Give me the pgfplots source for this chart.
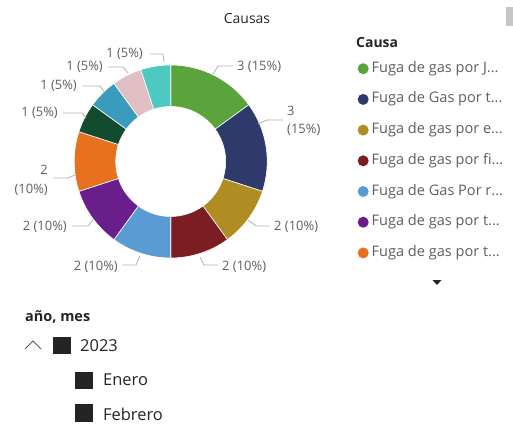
\documentclass[border=0pt]{standalone}
\usepackage{fontspec}
\setmainfont{Open Sans}
\usepackage{pgfplots}
\usepackage{pgfplotstable}
\pgfplotsset{compat=1.18}
\definecolor{cGreen}{HTML}{5BA33B}
\definecolor{cNavy}{HTML}{2D3A6B}
\definecolor{cOlive}{HTML}{B08D22}
\definecolor{cRed}{HTML}{7C1D24}
\definecolor{cBlue}{HTML}{5B9BD3}
\definecolor{cPurple}{HTML}{6A1E8B}
\definecolor{cOrange}{HTML}{E6711E}
\definecolor{cDkGreen}{HTML}{134B2E}
\definecolor{cTeal}{HTML}{3A9CBD}
\definecolor{cPink}{HTML}{DFBFC3}
\definecolor{cTurq}{HTML}{4EC9C1}
\definecolor{txtGray}{HTML}{605E5C}
\definecolor{txtDark}{HTML}{252423}
\definecolor{lineGray}{HTML}{B3B0AD}
\definecolor{scrollGray}{HTML}{C8C6C4}

\pgfplotstableread{
val col
3 cGreen
3 cNavy
2 cOlive
2 cRed
2 cBlue
2 cPurple
2 cOrange
1 cDkGreen
1 cTeal
1 cPink
1 cTurq
}\causas

\begin{document}
\begin{tikzpicture}
\begin{axis}[
  scale only axis, width=513bp, height=434bp,
  xmin=0, xmax=513, ymin=0, ymax=434, y dir=reverse,
  hide axis, clip=false,
  legend cell align=left,
  legend image code/.code={\path[#1] (5.5bp,0bp) circle[radius=5.5bp];},
  legend style={at={(axis cs:357.5,62)}, anchor=north west, draw=none, fill=none,
    font=\fontsize{14.6}{16}\selectfont, text=txtGray, row sep=17.7bp, column sep=3bp,
    inner sep=0pt,
    nodes={inner sep=0pt, text height=10bp, text depth=3bp}},
]
% bounding box
\addplot[draw=none, forget plot] coordinates {(0,0) (513,434)};

\pgfplotsextra{
  \gdef\cum{0}
  \foreach \i in {0,...,10}{
    \pgfplotstablegetelem{\i}{val}\of\causas \global\let\v\pgfplotsretval
    \pgfplotstablegetelem{\i}{col}\of\causas \global\let\c\pgfplotsretval
    \pgfmathsetmacro\aA{90-18*\cum}
    \pgfmathsetmacro\aB{90-18*(\cum+\v)}
    \fill[fill=\c, draw=white, line width=0.6bp]
      (axis cs:170.7,161.5) ++(\aA:96.5bp) arc[start angle=\aA, end angle=\aB, radius=96.5bp]
      -- ([shift={(\aB:55bp)}]axis cs:170.7,161.5) arc[start angle=\aB, end angle=\aA, radius=55bp]
      -- cycle;
    \pgfmathsetmacro\newcum{\cum+\v}
    \xdef\cum{\newcum}
  }
}

% legend
\addlegendimage{fill=cGreen, draw=none}
\addlegendentry{Fuga de gas por J...}
\addlegendimage{fill=cNavy, draw=none}
\addlegendentry{Fuga de Gas por t...}
\addlegendimage{fill=cOlive, draw=none}
\addlegendentry{Fuga de gas por e...}
\addlegendimage{fill=cRed, draw=none}
\addlegendentry{Fuga de gas por fi...}
\addlegendimage{fill=cBlue, draw=none}
\addlegendentry{Fuga de Gas Por r...}
\addlegendimage{fill=cPurple, draw=none}
\addlegendentry{Fuga de gas por t...}
\addlegendimage{fill=cOrange, draw=none}
\addlegendentry{Fuga de gas por t...}

% title
\node[text=txtDark, font=\fontsize{14}{16}\selectfont] at (axis cs:247,19) {Causas};
% legend title
\node[text=txtDark, font=\bfseries\fontsize{14}{16}\selectfont, anchor=west, inner sep=0pt] at (axis cs:356,43) {Causa};
% scroll bar and arrow
\fill[scrollGray] (axis cs:506,7) rectangle (axis cs:513,26);
\fill[txtDark] (axis cs:432.5,280) -- (axis cs:441.5,280) -- (axis cs:437,285) -- cycle;

% data labels and leader lines
\begin{scope}[font=\fontsize{13}{15}\selectfont, text=txtGray]
\draw[lineGray, line width=0.8bp] (axis cs:213,74) -- (axis cs:218,66) -- (axis cs:233,66);
\node[anchor=west, inner sep=0pt] at (axis cs:237,67) {3 (15\%)};
\draw[lineGray, line width=0.8bp] (axis cs:258,124) -- (axis cs:267,120) -- (axis cs:283,120);
\node[anchor=west, inner sep=0pt] at (axis cs:287,111) {3};
\node[anchor=west, inner sep=0pt] at (axis cs:287,130) {(15\%)};
\draw[lineGray, line width=0.8bp] (axis cs:248,220) -- (axis cs:256,226) -- (axis cs:270,226);
\node[anchor=west, inner sep=0pt] at (axis cs:274,227) {2 (10\%)};
\draw[lineGray, line width=0.8bp] (axis cs:200,257) -- (axis cs:204,265) -- (axis cs:218,265);
\node[anchor=west, inner sep=0pt] at (axis cs:222,267) {2 (10\%)};
\draw[lineGray, line width=0.8bp] (axis cs:122,265) -- (axis cs:136,265) -- (axis cs:140,256);
\node[anchor=east, inner sep=0pt] at (axis cs:118,267) {2 (10\%)};
\draw[lineGray, line width=0.8bp] (axis cs:72,226) -- (axis cs:88,226) -- (axis cs:93,220);
\node[anchor=east, inner sep=0pt] at (axis cs:67,227) {2 (10\%)};
\draw[lineGray, line width=0.8bp] (axis cs:53,178) -- (axis cs:68,178) -- (axis cs:75,175);
\node[anchor=east, inner sep=0pt] at (axis cs:48,170) {2};
\node[anchor=east, inner sep=0pt] at (axis cs:48,190) {(10\%)};
\draw[lineGray, line width=0.8bp] (axis cs:63,113) -- (axis cs:82,113) -- (axis cs:86,118);
\node[anchor=east, inner sep=0pt] at (axis cs:58,113) {1 (5\%)};
\draw[lineGray, line width=0.8bp] (axis cs:82,86) -- (axis cs:100,86) -- (axis cs:104,92);
\node[anchor=east, inner sep=0pt] at (axis cs:77,86) {1 (5\%)};
\draw[lineGray, line width=0.8bp] (axis cs:108,67) -- (axis cs:123,67) -- (axis cs:128,73);
\node[anchor=east, inner sep=0pt] at (axis cs:103,67) {1 (5\%)};
\draw[lineGray, line width=0.8bp] (axis cs:150,54) -- (axis cs:163,54) -- (axis cs:164,62);
\node[anchor=east, inner sep=0pt] at (axis cs:143,54) {1 (5\%)};
\end{scope}

% slicer
\node[text=txtDark, font=\bfseries\fontsize{14.5}{16}\selectfont, anchor=west, inner sep=0pt] at (axis cs:25,317) {año, mes};
\draw[txtGray, line width=0.9bp] (axis cs:25,349) -- (axis cs:33,341) -- (axis cs:41,349);
\fill[txtDark] (axis cs:53,337) rectangle (axis cs:71,354);
\node[text=txtDark, font=\fontsize{16.5}{18}\selectfont, anchor=west, inner sep=0pt] at (axis cs:80,346) {2023};
\fill[txtDark] (axis cs:75,372) rectangle (axis cs:93,389);
\node[text=txtDark, font=\fontsize{16.5}{18}\selectfont, anchor=west, inner sep=0pt] at (axis cs:103,380) {Enero};
\fill[txtDark] (axis cs:75,404) rectangle (axis cs:93,422);
\node[text=txtDark, font=\fontsize{16.5}{18}\selectfont, anchor=west, inner sep=0pt] at (axis cs:103,414) {Febrero};
\end{axis}
\end{tikzpicture}
\end{document}
